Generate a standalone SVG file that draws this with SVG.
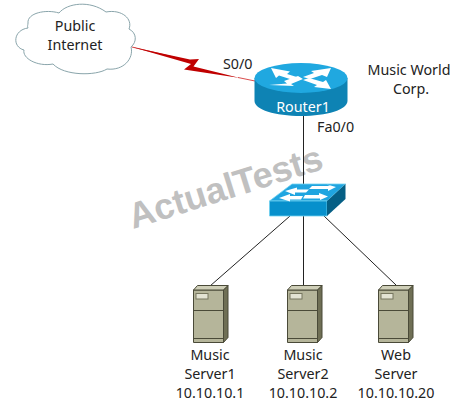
<svg xmlns="http://www.w3.org/2000/svg" width="463" height="409" viewBox="0 0 463 409">
<defs>
<style>
text{font-family:"Noto Sans","Open Sans","Liberation Sans",sans-serif;font-size:14.300px;fill:#222}
.c{text-anchor:middle}
.lnk{stroke:#222;stroke-width:1;fill:none}
.arrow{fill:#fff}
.sf{fill:#b5b59a;stroke:#4a4a38;stroke-width:1}
.st{fill:#cfcfb8;stroke:#4a4a38;stroke-width:1}
.ss{fill:#6f6f55;stroke:#4a4a38;stroke-width:1}
.sl{stroke:#4a4a38;stroke-width:1;fill:none}
.sb{fill:#e3e3d3;stroke:#77775f;stroke-width:1}
</style>
<g id="srv">
<path class="sf" d="M193.500 290H223.500V342.500H193.500Z"/>
<path class="st" d="M193.500 290L197.500 285.500H228V286L223.500 290Z"/>
<path class="ss" d="M223.500 290L228 285.500V337.500L223.500 342.500Z"/>
<path class="sl" d="M193.500 310.500H223.500M193.500 338.500H223.500"/>
<rect class="sb" x="196" y="293.500" width="12" height="5.500"/>
</g>
</defs>
<text id="watermark" x="0" y="0" transform="translate(133 229) rotate(-17.500)" style="font-family:'Liberation Sans',Arial,sans-serif;font-weight:bold;font-size:36px;fill:#c0c0c0">ActualTests</text>
<g id="connectors">
<path d="M132 47L188 60.500" stroke="#c81a1a" stroke-width="0.800" fill="none"/>
<path d="M132 47L190 59.500L199 59L193.500 66.500L240 78L184 69.500L191 64Z" fill="#c00000"/>
<path d="M238 77.500L255 81" stroke="#d02020" stroke-width="0.800" fill="none"/>
<path class="lnk" d="M303.500 116V201M303.500 216V285"/>
<path class="lnk" d="M290 216L210 286M324 216L396 285"/>
</g>
<g id="cloud">
<path d="M28 23C27 13 46 9 59 13C67 3 90 0 106 12C122 9 133 19 129 29C137 33 137 42 131 47C134 58 124 71 107 69C96 76 64 76 53 64C37 67 22 58 24 50C12 47 13 30 28 28C27 26 28 25 28 23Z" fill="#fff" stroke="#8aa5ab" stroke-width="1"/>
<text class="c" x="75" y="31">Public</text>
<text class="c" x="75" y="50">Internet</text>
</g>
<g id="router1">
<path d="M254.500 78V101C254.500 109.500 275 116 301 116S347.500 109.500 347.500 101V78Z" fill="#0e83b4"/>
<ellipse cx="301" cy="78" rx="46.500" ry="15" fill="#20a8e0"/>
<path d="M271 68L290 71.500L287 74L300 78L293 80L279 75.500L276 78ZM331 68L311 71L314 73L303 77L310 79L322 75L327 77Z" class="arrow"/>
<path d="M269 85L287 83.500L284 81L298 76L303 79L291 84L294 86ZM331 89L314 87L317 85L303 80L309 78L323 82L326 80Z" class="arrow"/>
<text class="c" x="303" y="112" style="fill:#fff">Router1</text>
</g>
<g id="switch">
<path d="M269.500 201L292 184H345.500L327 201Z" fill="#20a5e0" stroke="#6fd0f0" stroke-width="0.800"/>
<path d="M269.500 201H327V216H269.500Z" fill="#0790cc" stroke="#6fd0f0" stroke-width="0.800"/>
<path d="M327 201L345.500 184V199L327 216Z" fill="#055f85"/>
<path d="M285 191L297 187.500V189.500H309L306 192.500H295V195ZM312 186H330L327 184.500L336 187L328 191V189H309ZM279 198L290 194V196H303L301 199.500H290V201.500ZM305 195H319V193L328 196.500L320 200V198.500H303Z" class="arrow"/>
</g>
<g id="server1"><use href="#srv"/>
<text class="c" x="210" y="360">Music</text><text class="c" x="210" y="379">Server1</text><text class="c" x="210" y="398">10.10.10.1</text></g>
<g id="server2"><use href="#srv" x="94"/>
<text class="c" x="303" y="360">Music</text><text class="c" x="303" y="379">Server2</text><text class="c" x="303" y="398">10.10.10.2</text></g>
<g id="server3"><use href="#srv" x="185"/>
<text class="c" x="396" y="360">Web</text><text class="c" x="396" y="379">Server</text><text class="c" x="396" y="398">10.10.10.20</text></g>
<text x="223" y="69">S0/0</text>
<text x="317" y="132">Fa0/0</text>
<text class="c" x="409" y="75">Music World</text>
<text class="c" x="411" y="94">Corp.</text>
</svg>
